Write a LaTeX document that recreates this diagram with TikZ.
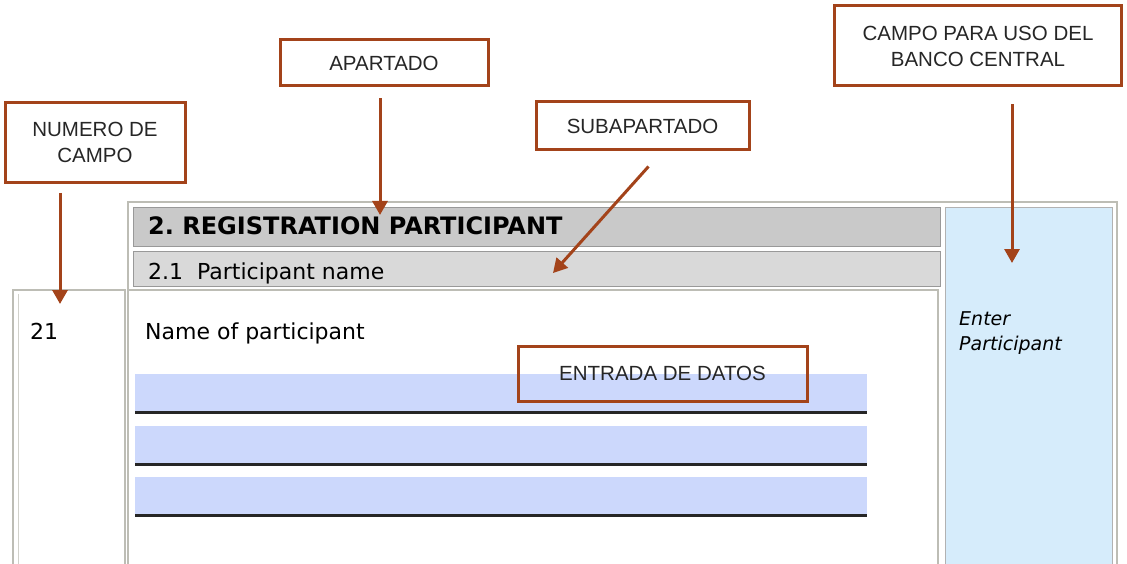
\documentclass[tikz,border=0pt]{standalone}
\usepackage{fontspec}
\usepackage{tikz}
\usetikzlibrary{calc,positioning,arrows.meta}
\newfontfamily\annfont{Liberation Sans}
\newfontfamily\formfont{DejaVu Sans}
\definecolor{callred}{HTML}{A3431A}
\definecolor{headgray}{HTML}{C9C9C9}
\definecolor{subgray}{HTML}{D9D9D9}
\definecolor{framegray}{HTML}{BDBDB5}
\definecolor{inblue}{HTML}{CCD8FC}
\definecolor{cbblue}{HTML}{D6ECFB}
\frenchspacing

\begin{document}
\begin{tikzpicture}[x=1pt, y=-1pt,
  callout/.style={draw=callred, line width=3pt, inner sep=0pt, align=center,
    font=\annfont\fontsize{20.5}{26}\selectfont, text=black!85},
  callarrow/.style={draw=callred, line width=3pt, -{Triangle[width=15pt,length=14pt]}},
  lbl/.style={anchor=base west, inner sep=0pt, font=\formfont\fontsize{22}{26}\selectfont}]
\useasboundingbox (0,0) rectangle (1127,564);
% form frame
\draw[framegray, line width=1.5pt, fill=white] (128,202) rectangle (1117,575);
\draw[framegray, line width=1.5pt] (13,290) rectangle (125,575);
\draw[framegray!70, line width=1pt] (18,294) -- (18,575);
\draw[framegray, line width=1.5pt] (128,290) rectangle (938,575);
\path[fill=headgray, draw=gray!80] (133,207) rectangle (940,246);
\path[fill=subgray, draw=gray!80] (133,251) rectangle (940,286);
\path[fill=cbblue, draw=gray!60, line width=1pt] (945,208) rectangle (1112,575);
% input lines
\foreach \y in {374, 426, 477}{
  \fill[inblue] (135,\y) rectangle (867,\y+37);
  \draw[black!85, line width=3pt] (135,\y+38) -- (867,\y+38);
}
% form texts
\node[lbl, font=\formfont\bfseries\fontsize{24}{28}\selectfont] (sec) at (148,235) {2. REGISTRATION PARTICIPANT};
\node[lbl] (subsec) at (148,279) {2.1\ \ Participant name};
\node[lbl] (num) at (30,339) {21};
\node[lbl] (name) at (145,339) {Name of participant};
\node[lbl, font=\formfont\itshape\fontsize{19}{26}\selectfont] (enter) at (959,325) {Enter};
\node[lbl, font=\formfont\itshape\fontsize{19}{26}\selectfont] (part) at (959,350) {Participant};
% callouts
\node[callout, minimum width=180pt, minimum height=80pt] (numbox) at (95,142.5) {NUMERO DE\\CAMPO};
\node[callout, minimum width=208pt, minimum height=46pt] (apbox) at (384,63) {APARTADO};
\node[callout, minimum width=213pt, minimum height=48pt] (subbox) at (642.5,126) {SUBAPARTADO};
\node[callout, minimum width=287pt, minimum height=80pt] (cbbox) at (978,46) {CAMPO PARA USO DEL\\BANCO CENTRAL};
\node[callout, minimum width=289pt, minimum height=55pt] (inbox) at (662.5,373.5) {ENTRADA DE DATOS};
% arrows
\coordinate (numT) at (60,304);
\coordinate (apT) at (380,215);
\coordinate (subT) at (553,273);
\coordinate (cbT) at (1012,263);
\draw[callarrow, shorten <=9pt] (numbox.south -| numT) -- (numT);
\draw[callarrow, shorten <=11pt] (apbox.south -| apT) -- (apT);
\draw[callarrow] ($(subbox.south)+(6,15)$) -- (subT);
\draw[callarrow, shorten <=17pt] (cbbox.south -| cbT) -- (cbT);
\end{tikzpicture}
\end{document}
